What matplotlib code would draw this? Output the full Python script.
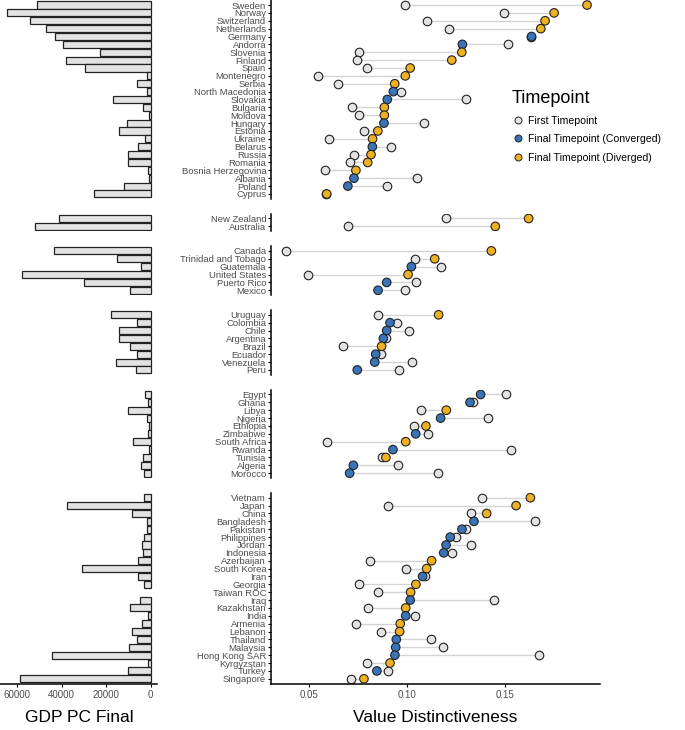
"""
GDP per capita e distintividade de valores por pais
"""

import numpy as np
import matplotlib
matplotlib.use('Agg')
import matplotlib.pyplot as plt
from matplotlib.lines import Line2D

plt.rcParams['font.family'] = ['Liberation Sans Narrow', 'Liberation Sans', 'DejaVu Sans']

# dados por grupo (regiao)
europe = ['Sweden', 'Norway', 'Switzerland', 'Netherlands', 'Germany', 'Andorra', 'Slovenia',
          'Finland', 'Spain', 'Montenegro', 'Serbia', 'North Macedonia', 'Slovakia', 'Bulgaria',
          'Moldova', 'Hungary', 'Estonia', 'Ukraine', 'Belarus', 'Russia', 'Romania',
          'Bosnia Herzegovina', 'Albania', 'Poland', 'Cyprus']
oceania = ['New Zealand', 'Australia']
n_america = ['Canada', 'Trinidad and Tobago', 'Guatemala', 'United States', 'Puerto Rico', 'Mexico']
s_america = ['Uruguay', 'Colombia', 'Chile', 'Argentina', 'Brazil', 'Ecuador', 'Venezuela', 'Peru']
africa = ['Egypt', 'Ghana', 'Libya', 'Nigeria', 'Ethiopia', 'Zimbabwe', 'South Africa', 'Rwanda',
          'Tunisia', 'Algeria', 'Morocco']
asia = ['Vietnam', 'Japan', 'China', 'Bangladesh', 'Pakistan', 'Philippines', 'Jordan', 'Indonesia',
        'Azerbaijan', 'South Korea', 'Iran', 'Georgia', 'Taiwan ROC', 'Iraq', 'Kazakhstan', 'India',
        'Armenia', 'Lebanon', 'Thailand', 'Malaysia', 'Hong Kong SAR', 'Kyrgyzstan', 'Turkey',
        'Singapore']
groups = [europe, oceania, n_america, s_america, africa, asia]

gdp = {
    'Sweden': 51100, 'Norway': 64700, 'Switzerland': 54400, 'Netherlands': 46900, 'Germany': 43100,
    'Andorra': 39300, 'Slovenia': 22800, 'Finland': 37800, 'Spain': 29400, 'Montenegro': 1700,
    'Serbia': 6000, 'North Macedonia': 1800, 'Slovakia': 16900, 'Bulgaria': 3600, 'Moldova': 900,
    'Hungary': 10800, 'Estonia': 14100, 'Ukraine': 2400, 'Belarus': 5700, 'Russia': 10300,
    'Romania': 10300, 'Bosnia Herzegovina': 1100, 'Albania': 800, 'Poland': 12000, 'Cyprus': 25600,
    'New Zealand': 41300, 'Australia': 52100,
    'Canada': 43600, 'Trinidad and Tobago': 15100, 'Guatemala': 4200, 'United States': 57800,
    'Puerto Rico': 30100, 'Mexico': 9200,
    'Uruguay': 18000, 'Colombia': 6200, 'Chile': 14400, 'Argentina': 14100, 'Brazil': 9400,
    'Ecuador': 6000, 'Venezuela': 15500, 'Peru': 6500,
    'Egypt': 2300, 'Ghana': 1100, 'Libya': 10200, 'Nigeria': 1800, 'Ethiopia': 800,
    'Zimbabwe': 1200, 'South Africa': 7800, 'Rwanda': 700, 'Tunisia': 3300, 'Algeria': 4300,
    'Morocco': 3100,
    'Vietnam': 2900, 'Japan': 37500, 'China': 8500, 'Bangladesh': 1700, 'Pakistan': 1500,
    'Philippines': 3000, 'Jordan': 3900, 'Indonesia': 3600, 'Azerbaijan': 5700, 'South Korea': 30700,
    'Iran': 5600, 'Georgia': 3100, 'Taiwan ROC': np.nan, 'Iraq': 4700, 'Kazakhstan': 9200,
    'India': 1300, 'Armenia': 3900, 'Lebanon': 8400, 'Thailand': 6300, 'Malaysia': 9600,
    'Hong Kong SAR': 44500, 'Kyrgyzstan': 1300, 'Turkey': 10100, 'Singapore': 58900,
}

first = {
    'Sweden': 0.0987, 'Norway': 0.1492, 'Switzerland': 0.1099, 'Netherlands': 0.1211, 'Germany': 0.1630,
    'Andorra': 0.1516, 'Slovenia': 0.0755, 'Finland': 0.0742, 'Spain': 0.0796, 'Montenegro': 0.0543,
    'Serbia': 0.0645, 'North Macedonia': 0.0968, 'Slovakia': 0.1300, 'Bulgaria': 0.0720, 'Moldova': 0.0752,
    'Hungary': 0.1085, 'Estonia': 0.0781, 'Ukraine': 0.0599, 'Belarus': 0.0915, 'Russia': 0.0728,
    'Romania': 0.0706, 'Bosnia Herzegovina': 0.0580, 'Albania': 0.1051, 'Poland': 0.0896, 'Cyprus': 0.0583,
    'New Zealand': 0.1196, 'Australia': 0.0697,
    'Canada': 0.0381, 'Trinidad and Tobago': 0.1038, 'Guatemala': 0.1174, 'United States': 0.0493,
    'Puerto Rico': 0.1043, 'Mexico': 0.0988,
    'Uruguay': 0.0849, 'Colombia': 0.0947, 'Chile': 0.1009, 'Argentina': 0.0893, 'Brazil': 0.0672,
    'Ecuador': 0.0864, 'Venezuela': 0.1024, 'Peru': 0.0959,
    'Egypt': 0.1504, 'Ghana': 0.1335, 'Libya': 0.1070, 'Nigeria': 0.1412, 'Ethiopia': 0.1034,
    'Zimbabwe': 0.1107, 'South Africa': 0.0590, 'Rwanda': 0.1529, 'Tunisia': 0.0873, 'Algeria': 0.0953,
    'Morocco': 0.1157,
    'Vietnam': 0.1380, 'Japan': 0.0900, 'China': 0.1327, 'Bangladesh': 0.1652, 'Pakistan': 0.1300,
    'Philippines': 0.1247, 'Jordan': 0.1323, 'Indonesia': 0.1230, 'Azerbaijan': 0.0810, 'South Korea': 0.0993,
    'Iran': 0.1092, 'Georgia': 0.0755, 'Taiwan ROC': 0.0852, 'Iraq': 0.1441, 'Kazakhstan': 0.0798,
    'India': 0.1038, 'Armenia': 0.0737, 'Lebanon': 0.0866, 'Thailand': 0.1119, 'Malaysia': 0.1184,
    'Hong Kong SAR': 0.1670, 'Kyrgyzstan': 0.0793, 'Turkey': 0.0902, 'Singapore': 0.0711,
}

final = {
    'Sweden': 0.1917, 'Norway': 0.1749, 'Switzerland': 0.1703, 'Netherlands': 0.1681, 'Germany': 0.1634,
    'Andorra': 0.1281, 'Slovenia': 0.1278, 'Finland': 0.1227, 'Spain': 0.1015, 'Montenegro': 0.0990,
    'Serbia': 0.0936, 'North Macedonia': 0.0929, 'Slovakia': 0.0898, 'Bulgaria': 0.0883, 'Moldova': 0.0883,
    'Hungary': 0.0881, 'Estonia': 0.0850, 'Ukraine': 0.0823, 'Belarus': 0.0822, 'Russia': 0.0815,
    'Romania': 0.0798, 'Bosnia Herzegovina': 0.0738, 'Albania': 0.0728, 'Poland': 0.0697, 'Cyprus': 0.0589,
    'New Zealand': 0.1619, 'Australia': 0.1449,
    'Canada': 0.1429, 'Trinidad and Tobago': 0.1140, 'Guatemala': 0.1021, 'United States': 0.1004,
    'Puerto Rico': 0.0895, 'Mexico': 0.0851,
    'Uruguay': 0.1160, 'Colombia': 0.0912, 'Chile': 0.0895, 'Argentina': 0.0878, 'Brazil': 0.0869,
    'Ecuador': 0.0839, 'Venezuela': 0.0834, 'Peru': 0.0745,
    'Egypt': 0.1374, 'Ghana': 0.1320, 'Libya': 0.1199, 'Nigeria': 0.1170, 'Ethiopia': 0.1095,
    'Zimbabwe': 0.1043, 'South Africa': 0.0992, 'Rwanda': 0.0927, 'Tunisia': 0.0891, 'Algeria': 0.0725,
    'Morocco': 0.0706,
    'Vietnam': 0.1628, 'Japan': 0.1555, 'China': 0.1405, 'Bangladesh': 0.1340, 'Pakistan': 0.1279,
    'Philippines': 0.1219, 'Jordan': 0.1198, 'Indonesia': 0.1186, 'Azerbaijan': 0.1124, 'South Korea': 0.1099,
    'Iran': 0.1078, 'Georgia': 0.1044, 'Taiwan ROC': 0.1017, 'Iraq': 0.1015, 'Kazakhstan': 0.0992,
    'India': 0.0992, 'Armenia': 0.0964, 'Lebanon': 0.0961, 'Thailand': 0.0944, 'Malaysia': 0.0941,
    'Hong Kong SAR': 0.0937, 'Kyrgyzstan': 0.0912, 'Turkey': 0.0845, 'Singapore': 0.0779,
}

# paises convergidos (azul); os demais divergiram (laranja)
converged = ['Germany', 'Andorra', 'North Macedonia', 'Slovakia', 'Hungary', 'Belarus', 'Albania',
             'Poland', 'Guatemala', 'Puerto Rico', 'Mexico', 'Colombia', 'Chile', 'Argentina',
             'Ecuador', 'Venezuela', 'Peru', 'Egypt', 'Ghana', 'Nigeria', 'Zimbabwe', 'Rwanda',
             'Algeria', 'Morocco', 'Bangladesh', 'Pakistan', 'Philippines', 'Jordan', 'Indonesia',
             'Iran', 'Iraq', 'India', 'Thailand', 'Malaysia', 'Hong Kong SAR', 'Turkey']

gdp_ticks = [60000, 40000, 20000, 0]
vd_ticks = [0.05, 0.10, 0.15]

C_FIRST = '#E3E3E3'
C_CONV = '#3A74B8'
C_DIV = '#EFB021'
C_SEG = '#D4D4D4'
TXT = '#4D4D4D'

W, H = 685, 730
fig = plt.figure(figsize=(W / 100, H / 100), dpi=100)


def rect(x0, ytop, w, h):
    return [x0 / W, 1 - (ytop + h) / H, w / W, h / H]


row_px = 7.872
gap_px = 15.1
ytop = 0.3

for gi, names in enumerate(groups):
    n = len(names)
    h = (n + 0.2) * row_px
    last = gi == len(groups) - 1
    ys = np.arange(n)

    # painel de barras (GDP)
    axl = fig.add_axes(rect(0, ytop, 157, h))
    vals = [gdp[c] for c in names]
    axl.barh(ys, vals, height=0.9, color=C_FIRST, edgecolor='#222222', linewidth=0.9)
    axl.set_xlim(67700, -2900)
    axl.set_ylim(n - 0.4, -0.6)
    axl.set_yticks([])
    for s in ['top', 'left', 'right']:
        axl.spines[s].set_visible(False)
    if last:
        axl.spines['bottom'].set_linewidth(1.1)
        axl.set_xticks(gdp_ticks)
        axl.set_xticklabels([str(t) for t in gdp_ticks], fontsize=7, color=TXT)
        axl.tick_params(axis='x', length=2.5, width=0.8, pad=2)
    else:
        axl.spines['bottom'].set_visible(False)
        axl.set_xticks([])

    # painel de pontos (distintividade)
    axr = fig.add_axes(rect(271, ytop, 329, h))
    f = [first[c] for c in names]
    g = [final[c] for c in names]
    cols = [C_CONV if c in converged else C_DIV for c in names]
    axr.hlines(ys, f, g, color=C_SEG, lw=1.0, zorder=1)
    axr.scatter(f, ys, s=38, c=C_FIRST, edgecolors='#222222', linewidths=0.8, zorder=2)
    axr.scatter(g, ys, s=38, c=cols, edgecolors='#222222', linewidths=0.8, zorder=3)
    axr.set_xlim(0.0305, 0.1983)
    axr.set_ylim(n - 0.4, -0.6)
    axr.set_yticks(ys)
    axr.set_yticklabels(names, fontsize=6.8, color=TXT)
    axr.tick_params(axis='y', length=2.5, width=0.8, pad=1)
    axr.spines['left'].set_linewidth(1.1)
    for s in ['top', 'right']:
        axr.spines[s].set_visible(False)
    if last:
        axr.spines['bottom'].set_linewidth(1.1)
        axr.set_xticks(vd_ticks)
        axr.set_xticklabels(['0.05', '0.10', '0.15'], fontsize=7, color=TXT)
        axr.tick_params(axis='x', length=2.5, width=0.8, pad=2)
    else:
        axr.spines['bottom'].set_visible(False)
        axr.set_xticks([])

    ytop += h + gap_px

# titulos dos eixos
fig.text(79 / W, 1 - 718 / H, 'GDP PC Final', ha='center', va='center', fontsize=12.5)
fig.text(435.5 / W, 1 - 718 / H, 'Value Distinctiveness', ha='center', va='center', fontsize=12.5)

# legenda
handles = [Line2D([], [], ls='', marker='o', ms=5, mfc=c, mec='#222222', mew=0.7)
           for c in [C_FIRST, C_CONV, C_DIV]]
labels = ['First Timepoint', 'Final Timepoint (Converged)', 'Final Timepoint (Diverged)']
fig.legend(handles, labels, title='Timepoint', loc='upper left',
           bbox_to_anchor=(507 / W, 1 - 86 / H), frameon=False, fontsize=7.6,
           title_fontsize=13, alignment='left', handletextpad=0.4, labelspacing=0.8,
           handlelength=1.2, borderaxespad=0)

fig.savefig('out.png', dpi=100)
